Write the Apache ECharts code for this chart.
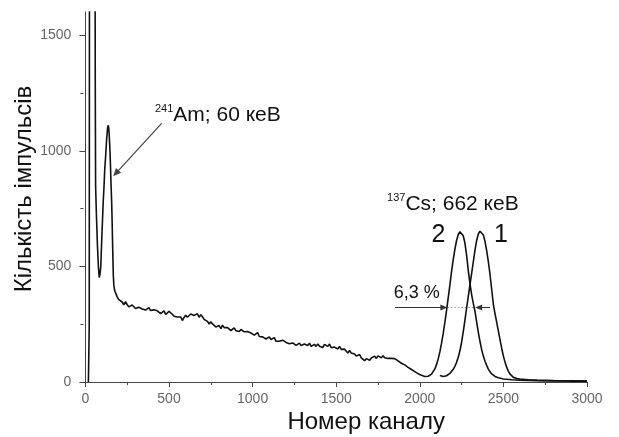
<!DOCTYPE html>
<html><head><meta charset="utf-8">
<script src="https://cdn.jsdelivr.net/npm/echarts@6/dist/echarts.min.js"></script>
<style>html,body{margin:0;padding:0;background:#fff}#c{width:619px;height:437px}</style>
</head><body><div id="c"></div>
<script>
// ---- data (channel, counts) ----
const yTickValues = [0, 500, 1000, 1500];
const yMinorTickValues = [250, 750, 1250];

// spectrum 2: low-energy part (X-ray spike + 241Am peak)
const spectrum2Low = [[18,0],[21,0],[23,250],[25,2600],[30,3300],[52,3300],[57,2200],[59,1300],[61,850],[66,720],[72,590],[78,495],[83,452],[88,470],[92,500],[99,640],[107,786],[111,840],[116,925],[120,965],[127,1050],[133,1100],[137,1110],[140,1095],[143,1060],[147,1000],[150,935],[154,840],[157,780],[160,690],[162,620],[165,520],[167,460],[170,420],[174,400],[178,390],[183,382],[190,368],[200,356],[210,348]];
// spectrum 2: Compton continuum
const spectrum2Bg = [[220,346],[230,334],[240,347],[250,334],[260,325],[270,333],[280,333],[290,325],[300,318],[310,313],[320,323],[330,328],[340,316],[350,323],[360,311],[370,318],[380,322],[390,309],[400,301],[410,312],[420,316],[430,308],[440,301],[450,296],[460,303],[470,308],[480,292],[490,297],[500,305],[510,307],[520,293],[530,284],[540,290],[550,281],[560,288],[570,281],[580,266],[590,279],[600,289],[610,280],[620,286],[630,294],[640,301],[650,288],[660,294],[670,295],[680,280],[690,291],[700,282],[710,271],[720,277],[730,262],[740,251],[750,260],[760,251],[770,255],[780,238],[790,240],[800,244],[810,231],[820,246],[830,235],[840,229],[850,235],[860,237],[870,222],[880,228],[890,234],[900,222],[910,227],[920,218],[930,227],[940,229],[950,217],[960,209],[970,218],[980,219],[990,212],[1000,218],[1010,203],[1020,210],[1030,214],[1040,197],[1050,200],[1060,195],[1070,203],[1080,186],[1090,194],[1100,195],[1110,184],[1120,187],[1130,192],[1140,176],[1150,183],[1160,176],[1170,168],[1180,181],[1190,178],[1200,171],[1210,178],[1220,165],[1230,165],[1240,169],[1250,175],[1260,158],[1270,165],[1280,168],[1290,158],[1300,154],[1310,164],[1320,167],[1330,158],[1340,168],[1350,154],[1360,160],[1370,163],[1380,154],[1390,165],[1400,155],[1410,160],[1420,149],[1430,163],[1440,159],[1450,154],[1460,164],[1470,148],[1480,156],[1490,151],[1500,156],[1510,143],[1520,154],[1530,141],[1540,134],[1550,142],[1560,136],[1570,125],[1580,137],[1590,125],[1600,130],[1610,121],[1620,112],[1630,118],[1640,119],[1650,104],[1660,106],[1670,92],[1680,101],[1690,97],[1700,94],[1710,104],[1720,101],[1730,112],[1740,102],[1750,113],[1760,111],[1770,105],[1780,114],[1790,105],[1800,110],[1810,102],[1820,110],[1830,102],[1840,106],[1850,101],[1860,100],[1870,91],[1880,90],[1890,81],[1900,82],[1910,74],[1920,72],[1930,63],[1940,61],[1950,54],[1960,52],[1970,45],[1980,42],[1990,36],[2000,32]];
// spectrum 2: 137Cs photopeak
const spectrum2Cs = [[2010,29],[2020,26],[2030,24],[2040,23],[2050,25],[2060,28],[2070,34],[2080,42],[2090,56],[2100,75],[2110,100],[2120,130],[2130,168],[2140,210],[2150,258],[2160,310],[2170,365],[2180,420],[2190,478],[2200,530],[2210,575],[2220,612],[2230,638],[2240,650],[2250,646],[2260,632],[2270,600],[2280,548],[2290,482],[2300,425],[2310,378],[2320,340],[2330,305],[2340,260],[2350,215],[2360,175],[2370,140],[2380,112],[2390,90],[2400,72],[2410,56],[2420,44],[2430,35],[2440,29],[2450,24],[2470,18],[2500,13],[2550,10],[2600,8],[2650,7],[2700,6],[2800,5],[2900,4],[3000,4]];
// spectrum 1: 137Cs photopeak only
const spectrum1 = [[2120,28],[2130,25],[2140,24],[2150,25],[2160,27],[2170,31],[2180,37],[2190,45],[2200,55],[2210,68],[2220,85],[2230,107],[2240,135],[2250,172],[2260,218],[2270,268],[2280,320],[2290,370],[2300,420],[2310,470],[2320,520],[2330,570],[2340,612],[2350,640],[2360,652],[2370,650],[2380,636],[2390,608],[2400,568],[2410,520],[2420,465],[2430,400],[2440,335],[2450,295],[2460,258],[2470,220],[2480,182],[2490,145],[2500,112],[2510,85],[2520,63],[2530,46],[2540,34],[2550,26],[2560,20],[2580,15],[2600,13],[2650,10],[2700,8],[2750,7],[2800,6],[2900,5],[3000,4]];

const spectrum2 = spectrum2Low.concat(spectrum2Bg, spectrum2Cs);

// ---- annotation anchors (data coords) ----
const amLabelPos = [416, 1204];
const amArrow = [[456, 1118], [166, 890]];
const csLabelPos = [1804, 821];
const peak2LabelPos = [2112, 635];
const peak1LabelPos = [2486, 635];
const fwhmLabelPos = [1982, 383];
const fwhmLeftArrow = [[1852, 322], [2165, 322]];
const fwhmRightArrow = [[2420, 322], [2331, 322]];

const FONT = 'Liberation Sans, Arial, Helvetica, sans-serif';
const AX = '#444';
const plain = v => String(v);

const chart = echarts.init(document.getElementById('c'), null, {renderer: 'canvas'});
const option = {
  animation: false,
  backgroundColor: '#fff',
  grid: {left: 85.4, right: 32, top: 12, bottom: 55, containLabel: false, outerBoundsMode: 'none'},
  xAxis: {
    type: 'value', min: 0, max: 3000, interval: 500,
    name: 'Номер каналу', nameLocation: 'middle', nameGap: 28, nameMoveOverlap: false,
    nameTextStyle: {fontFamily: FONT, fontSize: 24, color: '#111', padding: [0, 0, 0, 60]},
    axisLine: {show: true, onZero: false, lineStyle: {color: AX, width: 1}},
    axisTick: {show: true, length: 5, lineStyle: {color: AX}},
    minorTick: {show: true, splitNumber: 2, length: 3, lineStyle: {color: AX}},
    axisLabel: {color: '#666', fontFamily: FONT, fontSize: 14, margin: 10, formatter: plain},
    splitLine: {show: false}, minorSplitLine: {show: false}
  },
  yAxis: [{
    type: 'value', min: 0, max: 1600, offset: 2,
    name: 'Кількість імпульсів', nameLocation: 'middle', nameGap: 47, nameMoveOverlap: false,
    nameTextStyle: {fontFamily: FONT, fontSize: 24, color: '#111', padding: [0, 0, 0, 16]},
    axisLine: {show: true, lineStyle: {color: AX, width: 1}},
    axisTick: {show: true, length: 6, customValues: yTickValues, lineStyle: {color: AX}},
    axisLabel: {color: '#666', fontFamily: FONT, fontSize: 14, margin: 12, customValues: yTickValues, formatter: plain},
    splitLine: {show: false}
  }, {
    type: 'value', min: 0, max: 1600, offset: 2, position: 'left',
    axisLine: {show: false},
    axisTick: {show: true, length: 3, customValues: yMinorTickValues, lineStyle: {color: AX}},
    axisLabel: {show: false},
    splitLine: {show: false}
  }],
  series: [{
    type: 'line', data: spectrum2, symbol: 'none', clip: true,
    lineStyle: {color: '#111', width: 1.6}
  }, {
    type: 'line', data: spectrum1, symbol: 'none', clip: true,
    lineStyle: {color: '#111', width: 1.6}
  }]
};
chart.setOption(option);

function px(p) { return chart.convertToPixel({gridIndex: 0}, p); }
function arrow(a, b, color, len, half, lw) {
  const p0 = px(a), p1 = px(b);
  const dx = p1[0] - p0[0], dy = p1[1] - p0[1];
  const L = Math.sqrt(dx * dx + dy * dy), ux = dx / L, uy = dy / L;
  const bx = p1[0] - ux * len, by = p1[1] - uy * len;
  return [
    {type: 'line', silent: true, shape: {x1: p0[0], y1: p0[1], x2: bx + ux, y2: by + uy}, style: {stroke: color, lineWidth: lw}},
    {type: 'polygon', silent: true, shape: {points: [[p1[0], p1[1]], [bx - uy * half, by + ux * half], [bx + uy * half, by - ux * half]]}, style: {fill: color}}
  ];
}
function text(pos, str, size, align, valign, rich) {
  const p = px(pos);
  const el = {type: 'text', silent: true, x: p[0], y: p[1],
    style: {text: str, fontFamily: FONT, fontSize: size, fill: '#111', align: align, verticalAlign: valign}};
  if (rich) el.style.rich = rich;
  return el;
}
const supRich = {
  s: {fontFamily: FONT, fontSize: 11, fill: '#111', verticalAlign: 'top', lineHeight: 24},
  m: {fontFamily: FONT, fontSize: 21, fill: '#111', lineHeight: 24}
};
const g = [];
g.push(text(amLabelPos, '{s|241}{m|Am; 60 кеВ}', 21, 'left', 'top', supRich));
g.push(...arrow(amArrow[0], amArrow[1], '#444', 8, 3.5, 1.2));
g.push(text(csLabelPos, '{s|137}{m|Cs; 662 кеВ}', 21, 'left', 'top', supRich));
g.push(text(peak2LabelPos, '2', 25, 'center', 'middle'));
g.push(text(peak1LabelPos, '1', 25, 'center', 'middle'));
g.push(text(fwhmLabelPos, '6,3 %', 18, 'center', 'middle'));
g.push(...arrow(fwhmLeftArrow[0], fwhmLeftArrow[1], '#333', 7, 3, 1.1));
g.push(...arrow(fwhmRightArrow[0], fwhmRightArrow[1], '#333', 7, 3, 1.1));
const d0 = px(fwhmLeftArrow[1]), d1 = px(fwhmRightArrow[1]);
g.push({type: 'line', silent: true, shape: {x1: d0[0], y1: d0[1], x2: d1[0], y2: d1[1]}, style: {stroke: '#999', lineWidth: 1, lineDash: [1.5, 2]}});
chart.setOption({graphic: g});
</script></body></html>
